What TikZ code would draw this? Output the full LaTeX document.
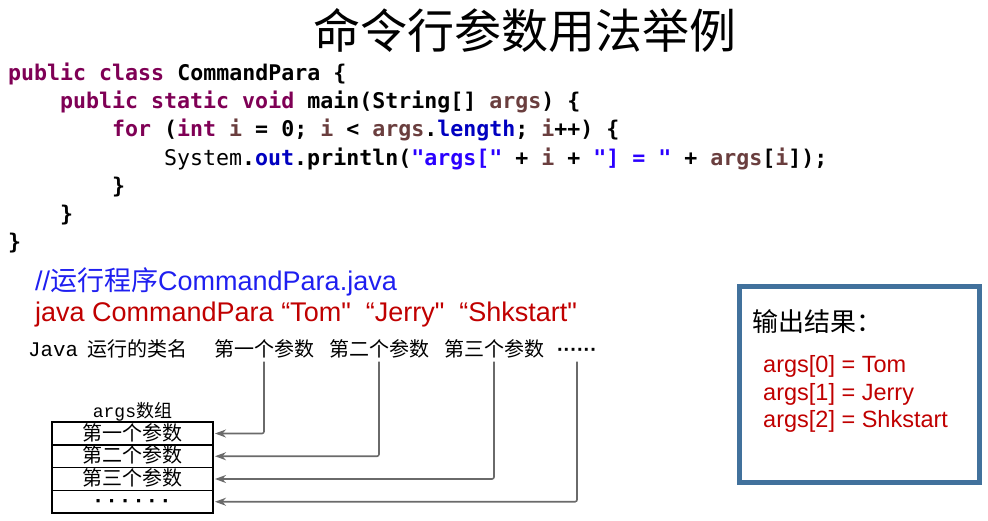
\documentclass[tikz,border=0pt]{standalone}
\usepackage{fontspec}
\setmainfont{Liberation Sans}
\newfontfamily\cjk{Noto Sans CJK SC}
\newfontfamily\codefont{DejaVu Sans Mono}
\newfontfamily\javafont{Liberation Mono}
\usepackage{xcolor}
\usepackage{tikz}
\usetikzlibrary{positioning, calc, arrows.meta}
\definecolor{kwpurple}{HTML}{7F0055}
\definecolor{varbrown}{HTML}{6A3E3E}
\definecolor{fieldblue}{HTML}{0000C0}
\definecolor{strblue}{HTML}{2A00FF}
\definecolor{cmdred}{HTML}{C00000}
\definecolor{cmtblue}{HTML}{1F1FF0}
\definecolor{frameblue}{HTML}{41719C}
\definecolor{arrowgray}{HTML}{6A6A6A}
\newcommand{\jkw}[1]{\textcolor{kwpurple}{#1}}
\newcommand{\jvar}[1]{\textcolor{varbrown}{#1}}
\newcommand{\jfld}[1]{\textcolor{fieldblue}{#1}}
\newcommand{\jstr}[1]{\textcolor{strblue}{#1}}

\begin{document}
\begin{tikzpicture}[x=1pt, y=-1pt]
		\useasboundingbox (0,0) rectangle (988,521);
		
		\tikzstyle{code}=[anchor=base west, inner sep=0pt, font=\codefont\bfseries\fontsize{21.6}{28}\selectfont]
		\tikzstyle{cmdline}=[anchor=base west, inner sep=0pt, font=\fontsize{27}{29}\selectfont]
		\tikzstyle{lbl}=[inner sep=2pt, text height=16pt, text depth=3pt, font=\cjk\fontsize{20}{22}\selectfont]
		\tikzstyle{cell}=[draw=black, line width=1.3pt, outer sep=0pt, inner sep=0pt, minimum width=161pt, minimum height=22.75pt, text height=16pt, text depth=3pt, font=\cjk\fontsize{20}{22}\selectfont]
		\tikzstyle{conn}=[draw=arrowgray, line width=1.6pt, rounded corners=2pt, shorten >=2pt, -{Stealth[length=11pt, width=8pt]}]
		\tikzstyle{result}=[anchor=base west, inner sep=0pt, text=cmdred, font=\fontsize{23.5}{26}\selectfont]
		
		\node[font=\cjk\fontsize{47}{50}\selectfont] (title) at (525,30) {命令行参数用法举例};
		
		\node[code] (c1) at (8,81) {\jkw{public class} CommandPara \{};
		\node[code] (c2) at (60,109) {\jkw{public static void} main(String[] \jvar{args}) \{};
		\node[code] (c3) at (112,137) {\jkw{for} (\jkw{int} \jvar{i} = 0; \jvar{i} < \jvar{args}.\jfld{length}; \jvar{i}++) \{};
		\node[code] (c4) at (164,166) {{\mdseries System}.\jfld{out}.println(\jstr{"args["} + \jvar{i} + \jstr{"] = "} + \jvar{args}[\jvar{i}]);};
		\node[code] (c5) at (112,194) {\}};
		\node[code] (c6) at (60,222) {\}};
		\node[code] (c7) at (8,250) {\}};
		
		\node[cmdline, text=cmtblue] (runcmt) at (35,291) {//{\cjk 运行程序}CommandPara.java};
		\node[cmdline, text=cmdred] (runcmd) at (35,322) {java CommandPara “Tom\textquotedbl\ \ “Jerry\textquotedbl\ \ “Shkstart\textquotedbl};
		
		%% row of labels under the command
		\node[lbl, anchor=west, font=\javafont\fontsize{20.8}{22}\selectfont] (jlbl) at (26,350) {Java};
		\node[lbl, anchor=west] (clsname) at (85,350) {运行的类名};
		\node[lbl] (p1) at (264,350) {第一个参数};
		\node[lbl] (p2) at (379,350) {第二个参数};
		\node[lbl] (p3) at (494,350) {第三个参数};
		\node[lbl, font=\bfseries\fontsize{20}{22}\selectfont] (p4) at (577,350) {······};
		
		%% args array
		\node[cell] (r1) at (132.5,433.5) {第一个参数};
		\node[cell, below=0pt of r1] (r2) {第二个参数};
		\node[cell, below=0pt of r2] (r3) {第三个参数};
		\node[cell, below=0pt of r3, font=\bfseries\fontsize{22}{22}\selectfont] (r4) {· · · · · ·};
		\node[above=1pt of r1, inner sep=0pt, font=\fontsize{18}{20}\selectfont] (arrlbl) {{\javafont args}{\cjk 数组}};
		
		\draw[conn] (p1.south) |- (r1.east);
		\draw[conn] (p2.south) |- (r2.east);
		\draw[conn] (p3.south) |- (r3.east);
		\draw[conn] (p4.south) |- (r4.east);
		
		%% output
		\node[draw=frameblue, line width=5pt, minimum width=240pt, minimum height=196pt] (outbox) at (859.5,384.5) {};
		\node[anchor=west, inner sep=0pt, font=\cjk\fontsize{26}{28}\selectfont] (outhead) at (752,322) {输出结果：};
		\node[result] (res0) at (763,372) {args[0] = Tom};
		\node[result] (res1) at (763,400) {args[1] = Jerry};
		\node[result] (res2) at (763,427) {args[2] = Shkstart};
		
\end{tikzpicture}
\end{document}
